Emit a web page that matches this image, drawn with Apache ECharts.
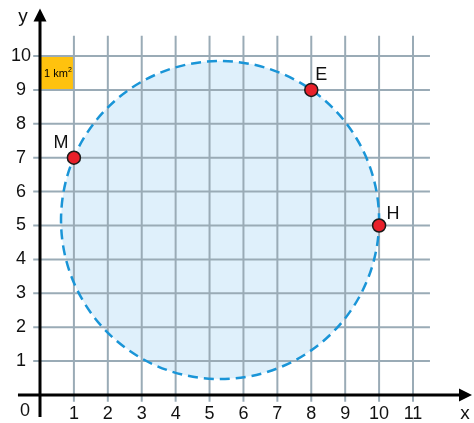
<!DOCTYPE html>
<html>
<head>
<meta charset="utf-8">
<script src="https://cdn.jsdelivr.net/npm/echarts@6/dist/echarts.min.js"></script>
<style>html,body{margin:0;padding:0;background:#fff}#c{width:474px;height:423px}</style>
</head>
<body>
<div id="c"></div>
<script>
// ---- data ----
var xTicks = [1, 2, 3, 4, 5, 6, 7, 8, 9, 10, 11];
var yTicks = [1, 2, 3, 4, 5, 6, 7, 8, 9, 10];
var pointNames = ['M', 'E', 'H'];
var pointX = [1, 8, 10];
var pointY = [7, 9, 5];
var circleCenter = [5.31, 5.16];
var circleRadius = [4.69];
var unitSquare = [0, 9, 1, 1]; // x, y, width, height
var unitLabel = ['1 km', '2'];
// grid line extents
var vGridRange = [-0.2, 10.6];
var hGridRange = [-0.2, 11.5];
var xAxisRange = [-0.65, 12.74];
var yAxisRange = [-0.65, 11.4];

var FONT = '"Liberation Sans", Arial, sans-serif';
var chart = echarts.init(document.getElementById('c'));

function lineEl(p1, p2, stroke, w) {
  return {type: 'line', shape: {x1: p1[0], y1: p1[1], x2: p2[0], y2: p2[1]},
    style: {stroke: stroke, lineWidth: w}};
}

var points = pointNames.map(function (n, i) { return {name: n, value: [pointX[i], pointY[i]]}; });
var labelOffsets = {M: [-13, -15], E: [10, -15], H: [14, -11]};
points.forEach(function (p) {
  p.label = {offset: labelOffsets[p.name]};
});

var option = {
  animation: false,
  grid: {left: 40, right: 61, top: 56, bottom: 28},
  xAxis: {
    type: 'value', min: 0, max: 11, interval: 1,
    axisLine: {show: false}, axisTick: {show: false}, splitLine: {show: false},
    axisLabel: {
      margin: 10, fontSize: 18, color: '#111', fontFamily: FONT,
      formatter: function (v) { return xTicks.indexOf(v) >= 0 ? String(v) : ''; }
    }
  },
  yAxis: {
    type: 'value', min: 0, max: 10, interval: 1,
    axisLine: {show: false}, axisTick: {show: false}, splitLine: {show: false},
    axisLabel: {
      margin: 19, align: 'center', fontSize: 18, color: '#111', fontFamily: FONT,
      formatter: function (v) { return yTicks.indexOf(v) >= 0 ? String(v) : ''; }
    }
  },
  series: [
    { // circle fill
      type: 'custom', clip: false, z: 1, silent: true,
      data: [[circleCenter[0], circleCenter[1], circleRadius[0]]],
      renderItem: function (params, api) {
        var c = api.coord([api.value(0), api.value(1)]);
        var r = api.size([api.value(2), 0])[0];
        return {type: 'circle', shape: {cx: c[0], cy: c[1], r: r},
          style: {fill: '#dff0fb', stroke: null}};
      }
    },
    { // unit square
      type: 'custom', clip: false, z: 2, silent: true,
      data: [unitSquare],
      renderItem: function (params, api) {
        var p = api.coord([api.value(0), api.value(1) + api.value(3)]);
        var s = api.size([api.value(2), api.value(3)]);
        return {type: 'group', children: [
          {type: 'rect', shape: {x: p[0], y: p[1], width: s[0], height: s[1]},
            style: {fill: '#ffc20e'}},
          {type: 'text', x: p[0] + s[0] / 2 + 1, y: p[1] + s[1] / 2 + 1,
            style: {text: '{a|' + unitLabel[0] + '}{s|' + unitLabel[1] + '}',
              align: 'center', verticalAlign: 'middle',
              rich: {a: {fontSize: 11, fontFamily: FONT, color: '#111'},
                     s: {fontSize: 7, fontFamily: FONT, color: '#111', verticalAlign: 'top', padding: [0, 0, 7, 0]}}}}
        ]};
      }
    },
    { // vertical grid lines
      type: 'custom', clip: false, z: 3, silent: true,
      data: xTicks.map(function (v) { return [v]; }),
      renderItem: function (params, api) {
        var x = api.value(0);
        return lineEl(api.coord([x, vGridRange[0]]), api.coord([x, vGridRange[1]]), '#9aabb6', 2);
      }
    },
    { // horizontal grid lines
      type: 'custom', clip: false, z: 3, silent: true,
      data: yTicks.map(function (v) { return [v]; }),
      renderItem: function (params, api) {
        var y = api.value(0);
        return lineEl(api.coord([hGridRange[0], y]), api.coord([hGridRange[1], y]), '#9aabb6', 2);
      }
    },
    { // circle dashed outline
      type: 'custom', clip: false, z: 4, silent: true,
      data: [[circleCenter[0], circleCenter[1], circleRadius[0]]],
      renderItem: function (params, api) {
        var c = api.coord([api.value(0), api.value(1)]);
        var r = api.size([api.value(2), 0])[0];
        return {type: 'circle', shape: {cx: c[0], cy: c[1], r: r},
          style: {fill: null, stroke: '#1a95d7', lineWidth: 2.5, lineDash: [10, 6]}};
      }
    },
    { // axes with arrows
      type: 'custom', clip: false, z: 5, silent: true,
      data: [[0]],
      renderItem: function (params, api) {
        var xa = api.coord([xAxisRange[0], 0]), xb = api.coord([xAxisRange[1], 0]);
        var ya = api.coord([0, yAxisRange[0]]), yb = api.coord([0, yAxisRange[1]]);
        return {type: 'group', children: [
          lineEl(xa, [xb[0] - 8, xb[1]], '#000', 3),
          {type: 'polygon', shape: {points: [[xb[0], xb[1]], [xb[0] - 13, xb[1] - 6.5], [xb[0] - 13, xb[1] + 6.5]]},
            style: {fill: '#000'}},
          lineEl(ya, [yb[0], yb[1] + 8], '#000', 3),
          {type: 'polygon', shape: {points: [[yb[0], yb[1]], [yb[0] - 6.5, yb[1] + 13], [yb[0] + 6.5, yb[1] + 13]]},
            style: {fill: '#000'}},
          {type: 'text', x: xb[0] - 7, y: xb[1] + 19,
            style: {text: 'x', fontSize: 19, fontFamily: FONT, fill: '#111', align: 'center', verticalAlign: 'middle'}},
          {type: 'text', x: yb[0] - 17, y: yb[1] + 8,
            style: {text: 'y', fontSize: 19, fontFamily: FONT, fill: '#111', align: 'center', verticalAlign: 'middle'}},
          {type: 'text', x: xa[0] + 7, y: xa[1] + 16,
            style: {text: '0', fontSize: 18, fontFamily: FONT, fill: '#111', align: 'center', verticalAlign: 'middle'}}
        ]};
      }
    },
    { // points
      type: 'scatter', z: 6, silent: true,
      symbol: 'circle', symbolSize: 13,
      itemStyle: {color: '#e8202a', borderColor: '#1a1a1a', borderWidth: 1.5, opacity: 1},
      label: {show: true, formatter: '{b}', position: 'inside', fontSize: 18, fontFamily: FONT, color: '#111'},
      data: points
    }
  ]
};
chart.setOption(option);
</script>
</body>
</html>
